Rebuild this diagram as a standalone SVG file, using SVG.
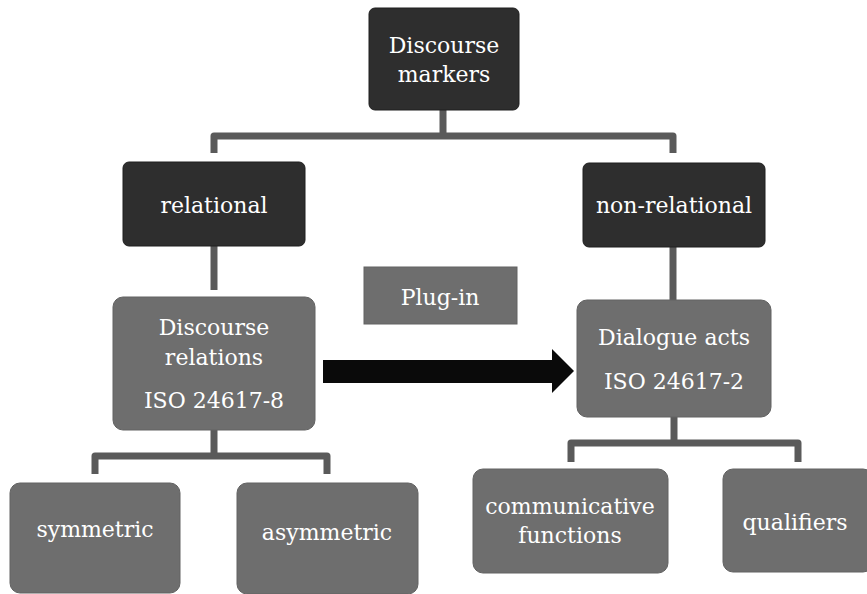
<svg xmlns="http://www.w3.org/2000/svg" width="867" height="594" viewBox="0 0 867 594">
<style>
.dark{fill:#2e2e2e;stroke:#1e1e1e;stroke-width:1}
.mid{fill:#6e6e6e;stroke:#626262;stroke-width:1}
.t{font-family:"DejaVu Serif","Liberation Serif",serif;font-size:22px;fill:#ffffff;text-anchor:middle}
.c{fill:none;stroke:#5a5a5a;stroke-width:7;stroke-linejoin:round}
</style>
<rect width="867" height="594" fill="#ffffff"/>
<g id="connectors">
<path class="c" d="M443 110 V136 M214 153 V136 H673 V153"/>
<path class="c" d="M214 246 V290"/>
<path class="c" d="M673 247 V300"/>
<path class="c" d="M214 430 V456 M95 474 V456 H327 V474"/>
<path class="c" d="M674 417 V443 M571 462 V443 H798 V462"/>
<path d="M323 360 H552 V349 L574 371 L552 393 V383 H323 Z" fill="#0a0a0a"/>
</g>
<g id="discourse-markers">
<rect class="dark" x="369" y="8" width="150" height="102" rx="6"/>
<text class="t" x="444" y="53">Discourse</text>
<text class="t" x="444" y="82">markers</text>
</g>
<g id="relational">
<rect class="dark" x="123" y="162" width="182" height="84" rx="6"/>
<text class="t" x="214" y="213">relational</text>
</g>
<g id="non-relational">
<rect class="dark" x="583" y="163" width="182" height="84" rx="6"/>
<text class="t" x="674" y="213">non-relational</text>
</g>
<g id="discourse-relations">
<rect class="mid" x="113" y="297" width="202" height="133" rx="10"/>
<text class="t" x="214" y="335">Discourse</text>
<text class="t" x="214" y="365">relations</text>
<text class="t" x="214" y="408">ISO 24617-8</text>
</g>
<g id="plug-in">
<rect class="mid" x="364" y="267" width="153" height="57"/>
<text class="t" x="440" y="305">Plug-in</text>
</g>
<g id="dialogue-acts">
<rect class="mid" x="577" y="300" width="194" height="117" rx="10"/>
<text class="t" x="674" y="345">Dialogue acts</text>
<text class="t" x="674" y="389">ISO 24617-2</text>
</g>
<g id="symmetric">
<rect class="mid" x="10" y="483" width="170" height="110" rx="10"/>
<text class="t" x="95" y="537">symmetric</text>
</g>
<g id="asymmetric">
<rect class="mid" x="237" y="483" width="181" height="111" rx="10"/>
<text class="t" x="327" y="540">asymmetric</text>
</g>
<g id="communicative-functions">
<rect class="mid" x="473" y="469" width="195" height="104" rx="10"/>
<text class="t" x="570" y="514">communicative</text>
<text class="t" x="570" y="543">functions</text>
</g>
<g id="qualifiers">
<rect class="mid" x="723" y="469" width="150" height="103" rx="10"/>
<text class="t" x="795" y="530">qualifiers</text>
</g>
</svg>
